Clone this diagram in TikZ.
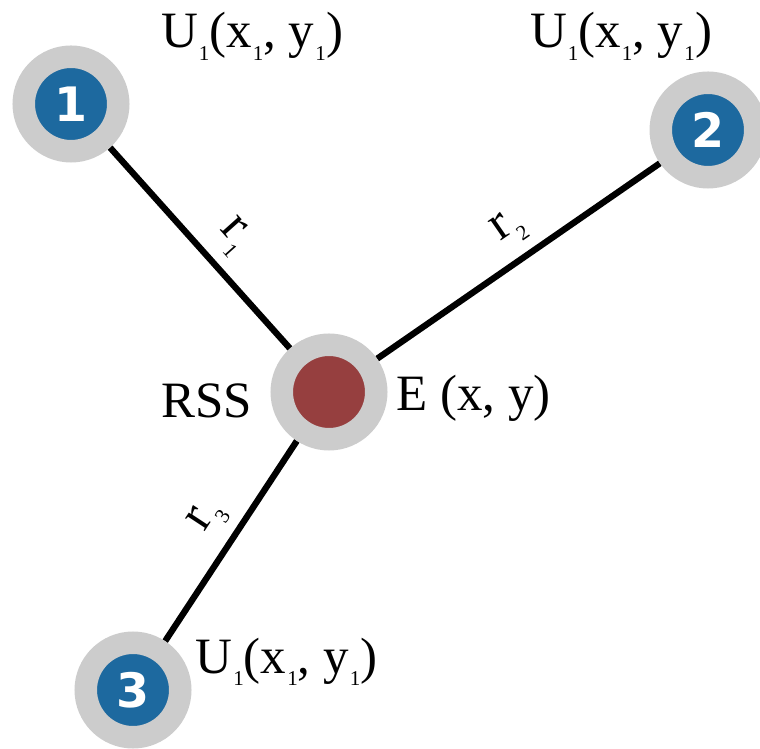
\documentclass[tikz,border=0pt]{standalone}
\usepackage{fontspec}
\setmainfont{Liberation Serif}
\newfontfamily\numfont{DejaVu Sans}
\usetikzlibrary{backgrounds}

\definecolor{ringgray}{RGB}{204,204,204}
\definecolor{nodeblue}{RGB}{29,105,159}
\definecolor{nodered}{RGB}{150,63,63}
\newcommand{\lsub}[1]{\kern0.3pt\raisebox{-0.55ex}{\fontsize{6}{7}\selectfont #1}}

\begin{document}
\begin{tikzpicture}[
  x=1cm, y=1cm,
  font=\fontsize{14.5}{17}\selectfont,
  station/.style={circle, fill=nodeblue, draw=ringgray, line width=2.25mm,
                  minimum size=9.45mm, inner sep=0pt, text=white,
                  font=\fontsize{13.5}{16}\numfont\bfseries},
  source/.style={station, fill=nodered},
  link/.style={line width=1.8pt, draw=black},
  dist/.style={sloped, above, inner sep=3pt},
  coordtxt/.style={anchor=base, inner sep=0pt}
]

\useasboundingbox (0,0) rectangle (7.6,7.48);

% ---------------- anchors and the emitter ----------------
\node[station] (u1) at (0.71, 6.44) {1};
\node[station] (u2) at (7.08, 6.18) {2};
\node[station] (u3) at (1.33, 0.58) {3};
\node[source] (e) at (3.29, 3.56) {};

% ---------------- labels ----------------
\node[coordtxt] (u1lab) at (2.52, 7.00) {U\lsub{1}(x\lsub{1}, y\lsub{1})};
\node[coordtxt] (u2lab) at (6.21, 7.00) {U\lsub{1}(x\lsub{1}, y\lsub{1})};
\node[coordtxt] (u3lab) at (2.865, 0.75) {U\lsub{1}(x\lsub{1}, y\lsub{1})};
\node[coordtxt] (rss) at (2.065, 3.30) {RSS};
\node[coordtxt] (elab) at (4.735, 3.37) {E (x, y)};

% ---------------- ranges ----------------
\begin{scope}[on background layer]
  \draw[link] (u1) -- node[dist, pos=0.55] {r\lsub{1}} (e);
  \draw[link] (e) -- node[dist, pos=0.53] {r\lsub{2}} (u2);
  \draw[link] (u3) -- node[dist, pos=0.53] {r\lsub{3}} (e);
\end{scope}

\end{tikzpicture}
\end{document}
